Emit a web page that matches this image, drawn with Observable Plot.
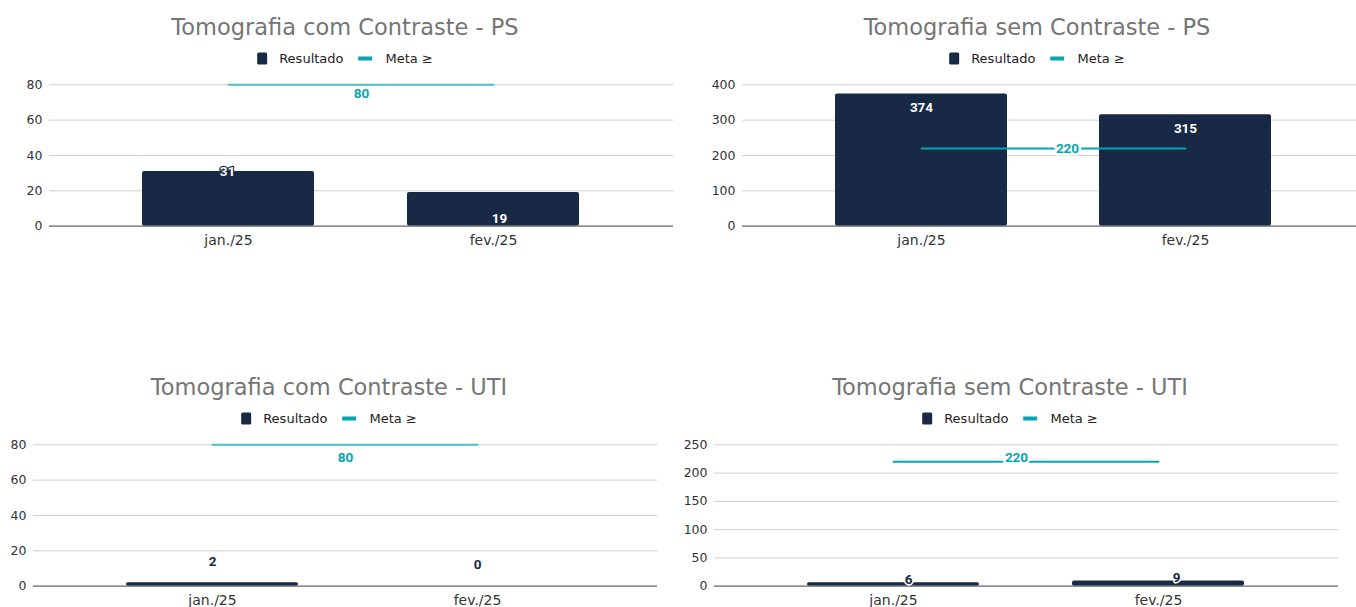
<!DOCTYPE html>
<html>
<head>
<meta charset="utf-8">
<script src="https://cdn.jsdelivr.net/npm/d3@7"></script>
<script src="https://cdn.jsdelivr.net/npm/@observablehq/plot@0.6"></script>
<style>
  html, body { margin: 0; padding: 0; background: #fff; }
  body { width: 1356px; height: 607px; overflow: hidden; font-family: "DejaVu Sans", sans-serif; }
  #root { position: relative; width: 1356px; height: 607px; overflow: hidden; }
  .svgwrap { position: absolute; }
  .svgwrap svg { max-width: none !important; display: block; }
  .title { position: absolute; transform: translate(-50%, -50%); white-space: nowrap; font-size: 22.5px; color: #757575; }
  .legend { position: absolute; transform: translate(-50%, -50%); white-space: nowrap; font-size: 13px; color: #222; display: flex; align-items: center; }
  .sw-bar { display: inline-block; width: 10px; height: 12px; border-radius: 1.5px; margin-right: 12px; }
  .sw-line { display: inline-block; width: 14px; height: 4px; margin-left: 15px; margin-right: 13px; }
</style>
</head>
<body>
<div id="root"></div>
<script>
// ---------- DATA ----------
const months = ["jan./25", "fev./25"];
const titles = [
  "Tomografia com Contraste - PS",
  "Tomografia sem Contraste - PS",
  "Tomografia com Contraste - UTI",
  "Tomografia sem Contraste - UTI"
];
const resultadoComPS = [31, 19];
const resultadoSemPS = [374, 315];
const resultadoComUTI = [2, 0];
const resultadoSemUTI = [6, 9];
const metaComPS = 80;
const metaSemPS = 220;
const metaComUTI = 80;
const metaSemUTI = 220;
const ticksComPS = [0, 20, 40, 60, 80];
const ticksSemPS = [0, 100, 200, 300, 400];
const ticksComUTI = [0, 20, 40, 60, 80];
const ticksSemUTI = [0, 50, 100, 150, 200, 250];
const legendLabels = ["Resultado", "Meta \u2265"];

// ---------- STYLE ----------
const navy = "#172945";
const teal = "#04a6b3";
const panels = [
  { title: titles[0], values: resultadoComPS, meta: metaComPS, ticks: ticksComPS,
    left: 0, top: 70, width: 680, height: 180, ml: 49, mr: 7, mt: 14.3, mb: 24.3,
    titleY: 27, legendY: 58, metaColor: "#4fc0c6", metaDx: 0, metaDy: 8.5, metaHalo: false,
    lab: [{dx: -1, dy: 0, fill: "#fff", stroke: navy, sw: 2.5}, {dx: 6, dy: 26.5, fill: "#fff", stroke: navy, sw: 2.5}] },
  { title: titles[1], values: resultadoSemPS, meta: metaSemPS, ticks: ticksSemPS,
    left: 680, top: 70, width: 700, height: 180, ml: 62, mr: 16, mt: 14.3, mb: 24.3,
    titleY: 27, legendY: 58, metaColor: teal, metaDx: 14, metaDy: 0, metaHalo: true,
    lab: [{dx: 0, dy: 14, fill: "#fff", stroke: null}, {dx: 0, dy: 14, fill: "#fff", stroke: null}] },
  { title: titles[2], values: resultadoComUTI, meta: metaComUTI, ticks: ticksComUTI,
    left: 0, top: 430, width: 680, height: 177, ml: 33, mr: 23, mt: 14.3, mb: 21.3,
    titleY: 387, legendY: 418, metaColor: "#4fc0c6", metaDx: 0, metaDy: 13, metaHalo: false,
    lab: [{dx: 0, dy: -21, fill: navy, stroke: null}, {dx: 0, dy: -21.5, fill: navy, stroke: null}] },
  { title: titles[3], values: resultadoSemUTI, meta: metaSemUTI, ticks: ticksSemUTI,
    left: 680, top: 430, width: 676, height: 177, ml: 34, mr: 18, mt: 14.3, mb: 21.3,
    titleY: 387, legendY: 418, metaColor: teal, metaDx: -10, metaDy: -4.5, metaHalo: true,
    lab: [{dx: 15, dy: -3, fill: navy, stroke: "#fff", sw: 3}, {dx: 18, dy: -3.5, fill: navy, stroke: "#fff", sw: 3}] }
];

const root = document.getElementById("root");

panels.forEach((p) => {
  const rows = months.map((m, i) => ({ month: m, value: p.values[i] }));
  const metaRows = months.map((m) => ({ month: m, value: p.meta }));

  const labelMarks = rows.map((r, i) => {
    const s = p.lab[i];
    const opts = {
      x: "month", y: "value", text: (d) => String(d.value),
      dx: s.dx, dy: s.dy, fill: s.fill,
      fontFamily: "Roboto", fontWeight: 700, fontSize: 13.5
    };
    if (s.stroke) { opts.stroke = s.stroke; opts.strokeWidth = s.sw; opts.paintOrder = "stroke"; }
    return Plot.text([r], opts);
  });

  const metaText = {
    y: "value", text: (d) => String(d.value), fill: teal,
    dx: p.metaDx, dy: p.metaDy, fontFamily: "Roboto", fontWeight: 700, fontSize: 13.5,
    frameAnchor: "middle"
  };
  if (p.metaHalo) { metaText.stroke = "#fff"; metaText.strokeWidth = 5; metaText.paintOrder = "stroke"; }

  const chart = Plot.plot({
    width: p.width,
    height: p.height,
    marginLeft: p.ml,
    marginRight: p.mr,
    marginTop: p.mt,
    marginBottom: p.mb,
    style: { fontFamily: "DejaVu Sans", fontSize: "13px", color: "#333", background: "transparent", overflow: "visible" },
    x: { type: "band", domain: months, padding: 0.35, label: null },
    y: { domain: [0, p.ticks[p.ticks.length - 1]], label: null },
    marks: [
      Plot.gridY(p.ticks, { stroke: "#cfcfcf", strokeOpacity: 1, strokeWidth: 1 }),
      Plot.axisY(p.ticks, { tickSize: 0, tickPadding: 7, fontSize: 12.5, fill: "#333", label: null }),
      Plot.axisX({ tickSize: 0, tickPadding: 9, fontSize: 14, fill: "#333", label: null }),
      Plot.barY(rows, { x: "month", y: "value", fill: navy, rx: 2 }),
      Plot.ruleY([0], { stroke: "#707070", strokeWidth: 1.2 }),
      Plot.line(metaRows, { x: "month", y: "value", stroke: p.metaColor, strokeWidth: 2 }),
      Plot.text([{ value: p.meta }], metaText),
      ...labelMarks
    ]
  });

  const wrap = document.createElement("div");
  wrap.className = "svgwrap";
  wrap.style.left = p.left + "px";
  wrap.style.top = p.top + "px";
  wrap.style.width = p.width + "px";
  wrap.style.height = p.height + "px";
  wrap.appendChild(chart);
  root.appendChild(wrap);

  const cx = p.left + (p.ml + (p.width - p.mr)) / 2 - 16;

  const t = document.createElement("div");
  t.className = "title";
  t.textContent = p.title;
  t.style.left = cx + "px";
  t.style.top = p.titleY + "px";
  root.appendChild(t);

  const lg = document.createElement("div");
  lg.className = "legend";
  lg.style.left = cx + "px";
  lg.style.top = p.legendY + "px";
  lg.innerHTML =
    '<span class="sw-bar" style="background:' + navy + '"></span><span>' + legendLabels[0] + '</span>' +
    '<span class="sw-line" style="background:' + teal + '"></span><span>' + legendLabels[1] + '</span>';
  root.appendChild(lg);
});
</script>
</body>
</html>
